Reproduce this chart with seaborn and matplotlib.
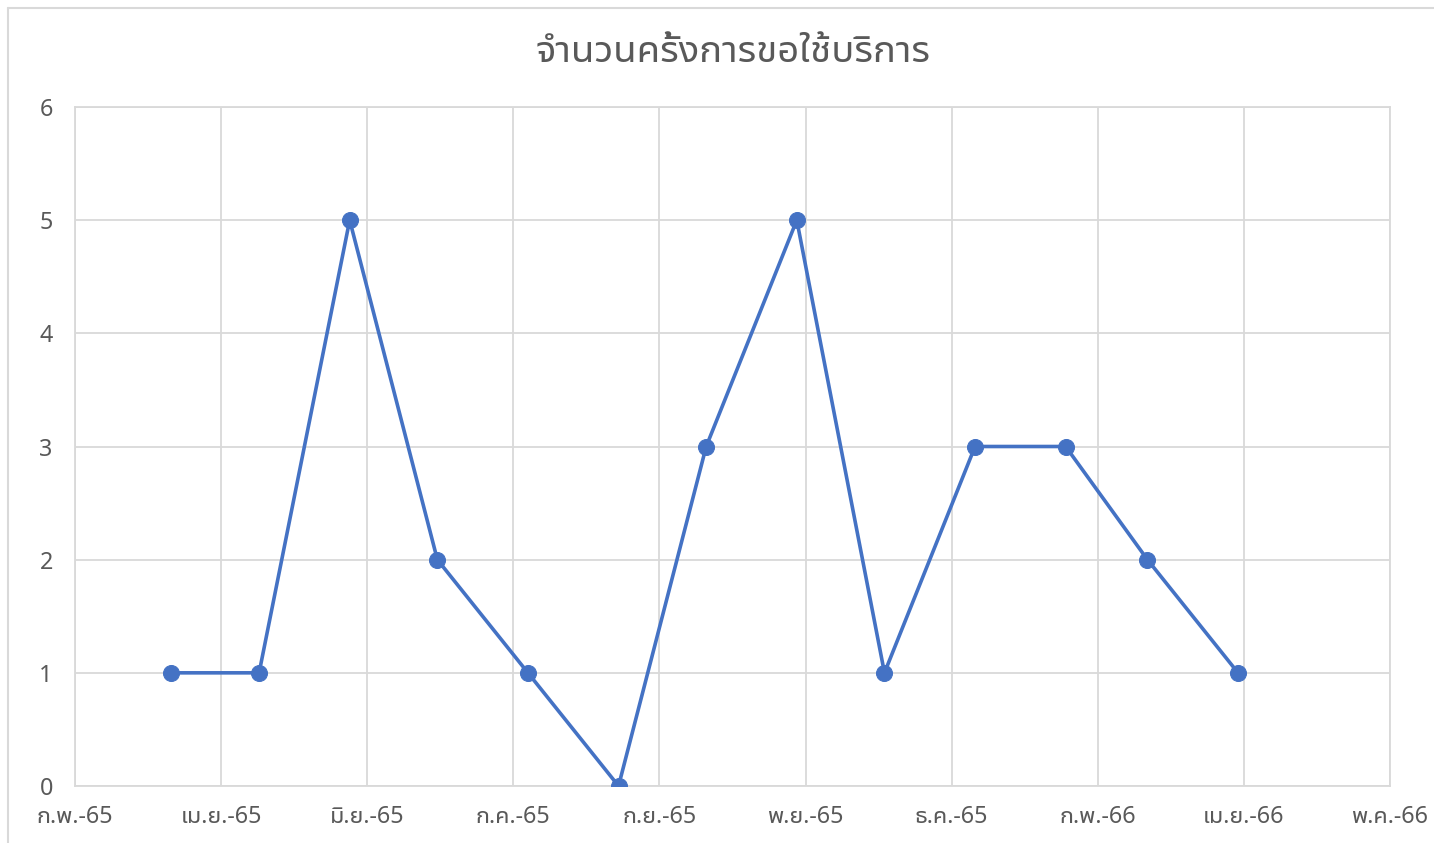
import matplotlib
matplotlib.use('Agg')
import matplotlib.pyplot as plt
import seaborn as sns
import pandas as pd

# monthly service requests (Apr 2022 - Apr 2023)
months = ['2022-04-01', '2022-05-01', '2022-06-01', '2022-07-01', '2022-08-01',
          '2022-09-01', '2022-10-01', '2022-11-01', '2022-12-01', '2023-01-01',
          '2023-02-01', '2023-03-01', '2023-04-01']
counts = [1, 1, 5, 2, 1, 0, 3, 5, 1, 3, 3, 2, 1]

# excel date axis: base date, 50-day major unit
tick_labels = ['ก.พ.-65', 'เม.ย.-65', 'มิ.ย.-65', 'ก.ค.-65', 'ก.ย.-65',
               'พ.ย.-65', 'ธ.ค.-65', 'ก.พ.-66', 'เม.ย.-66', 'พ.ค.-66']
axis_start = '2022-02-27'
y_ticks = [0, 1, 2, 3, 4, 5, 6]

df = pd.DataFrame({'month': pd.to_datetime(months), 'count': counts})

sns.set_theme(style='white')
plt.rcParams['font.family'] = ['Noto Sans', 'Noto Sans Thai UI', 'DejaVu Sans']

grey = '#595959'
grid = '#D9D9D9'
blue = '#4472C4'

fig = plt.figure(figsize=(14.34, 8.43), dpi=100)
ax = fig.add_axes([75/1434, 1 - 786/843, (1390 - 75)/1434, (786 - 107)/843])

sns.lineplot(data=df, x='month', y='count', ax=ax, color=blue, linewidth=2.6,
             marker='o', markersize=11.5, markeredgecolor=blue, zorder=3)

start = pd.Timestamp(axis_start)
ticks = [start + pd.Timedelta(days=50 * i) for i in range(len(tick_labels))]
ax.set_xlim(ticks[0], ticks[-1])
ax.set_xticks(ticks)
ax.set_xticklabels(tick_labels)
ax.set_ylim(0, 6)
ax.set_yticks(y_ticks)

ax.grid(True, color=grid, linewidth=1.3)
for s in ax.spines.values():
    s.set_color(grid)
    s.set_linewidth(1.3)
ax.tick_params(axis='both', length=0, labelsize=16.8, colors=grey)
ax.tick_params(axis='x', pad=14)
ax.tick_params(axis='y', pad=16)
ax.set_xlabel('')
ax.set_ylabel('')

fig.text(733/1434, 1 - 52/843, 'จำนวนครั้งการขอใช้บริการ', ha='center', va='center',
         fontsize=27.5, color=grey, fontweight='semibold')

# outer chart border (top/left visible)
fig.add_artist(plt.Line2D([8/1434, 1], [1 - 8/843, 1 - 8/843], color=grid, linewidth=1.5))
fig.add_artist(plt.Line2D([8/1434, 8/1434], [0, 1 - 8/843], color=grid, linewidth=1.5))

fig.savefig('out.png', dpi=100)
